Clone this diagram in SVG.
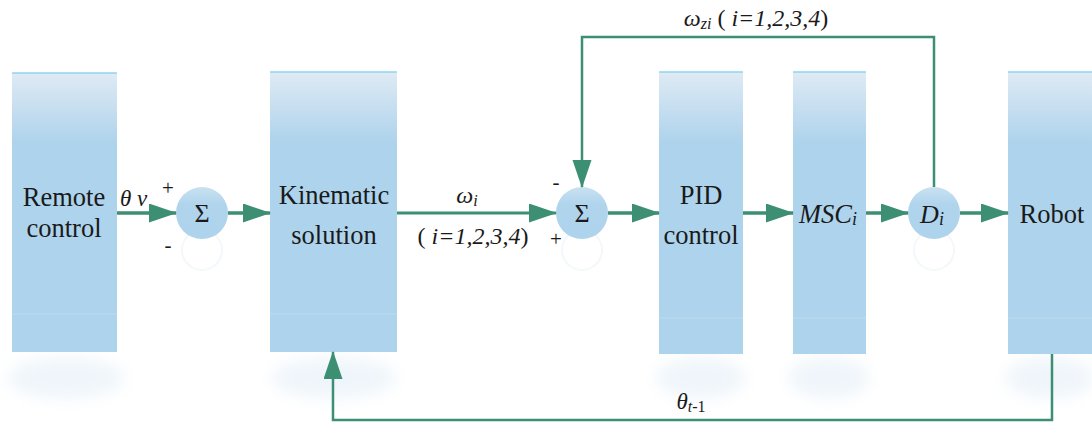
<svg xmlns="http://www.w3.org/2000/svg" width="1092" height="423" viewBox="0 0 1092 423">
<style>
.box{fill:url(#boxg)}
.edge{stroke:#8fd5ef;stroke-width:1.5}
.band{stroke:#bcdcf0;stroke-width:1}
.circ{fill:url(#circg)}
text{font-family:'Times New Roman','Liberation Serif','DejaVu Serif',serif;fill:#1a1a1a}
.lbl{font-size:26.5px;text-anchor:middle}
.it{font-style:italic}
.ln{stroke:#3d8f73;fill:none}
.shadow{fill:#dbe9f5;opacity:0.45;filter:url(#blur)}
.ring{fill:none;stroke:#f4f8fb;stroke-width:2}
</style>
<defs>
<linearGradient id="boxg" x1="0" y1="0" x2="0" y2="1">
<stop offset="0" stop-color="#dfeaf4"/>
<stop offset="0.25" stop-color="#aed3ec"/>
<stop offset="1" stop-color="#aed3ec"/>
</linearGradient>
<linearGradient id="circg" x1="0" y1="0" x2="0" y2="1">
<stop offset="0" stop-color="#c9e1f2"/>
<stop offset="0.35" stop-color="#afd4ec"/>
<stop offset="1" stop-color="#aed3ec"/>
</linearGradient>
<filter id="blur" x="-30%" y="-50%" width="160%" height="200%"><feGaussianBlur stdDeviation="8"/></filter>
<marker id="ah" markerUnits="userSpaceOnUse" markerWidth="28" markerHeight="20" refX="27" refY="9.5" orient="auto">
<path d="M0,0 L28,9.5 L0,19 z" fill="#3d8f73"/>
</marker>
</defs>

<g id="shadows">
<ellipse class="shadow" cx="66" cy="378" rx="58" ry="20"/>
<ellipse class="shadow" cx="334" cy="378" rx="62" ry="20"/>
<ellipse class="shadow" cx="701" cy="378" rx="44" ry="20"/>
<ellipse class="shadow" cx="829" cy="378" rx="40" ry="20"/>
<ellipse class="shadow" cx="1050" cy="378" rx="44" ry="20"/>
<circle class="ring" cx="202" cy="250" r="20"/>
<circle class="ring" cx="582" cy="250" r="20"/>
<circle class="ring" cx="934" cy="250" r="20"/>
</g>

<g id="remote">
<rect class="box" x="12" y="73" width="105" height="279"/>
<line class="edge" x1="12" y1="73" x2="117" y2="73"/>
<line class="band" x1="12" y1="314" x2="117" y2="314"/>
<text class="lbl" x="64" y="206">Remote</text>
<text class="lbl" x="64" y="237">control</text>
</g>

<g id="kinematic">
<rect class="box" x="270" y="72" width="127" height="280"/>
<line class="edge" x1="270" y1="72" x2="397" y2="72"/>
<line class="band" x1="270" y1="314" x2="397" y2="314"/>
<text class="lbl" x="334" y="204">Kinematic</text>
<text class="lbl" x="334" y="244">solution</text>
</g>

<g id="pid">
<rect class="box" x="659" y="72" width="84" height="282"/>
<line class="edge" x1="659" y1="72" x2="743" y2="72"/>
<line class="band" x1="659" y1="318" x2="743" y2="318"/>
<text class="lbl" x="701" y="204">PID</text>
<text class="lbl" x="701" y="244">control</text>
</g>

<g id="msc">
<rect class="box" x="793" y="72" width="73" height="282"/>
<line class="edge" x1="793" y1="72" x2="866" y2="72"/>
<line class="band" x1="793" y1="318" x2="866" y2="318"/>
<text class="lbl it" x="828" y="223">MSC<tspan font-size="18" dy="2">i</tspan></text>
</g>

<g id="robot">
<rect class="box" x="1008" y="72" width="84" height="282"/>
<line class="edge" x1="1008" y1="72" x2="1092" y2="72"/>
<line class="band" x1="1008" y1="318" x2="1092" y2="318"/>
<text class="lbl" x="1052" y="223">Robot</text>
</g>

<g id="sum1">
<circle class="circ" cx="202" cy="213" r="26"/>
<text x="202" y="222" font-size="26" text-anchor="middle">Σ</text>
</g>

<g id="sum2">
<circle class="circ" cx="582" cy="213" r="26"/>
<text x="582" y="222" font-size="26" text-anchor="middle">Σ</text>
</g>

<g id="d">
<circle class="circ" cx="934" cy="213" r="26"/>
<text class="it" x="932" y="223" font-size="26" text-anchor="middle">D<tspan font-size="18" dy="2">i</tspan></text>
</g>

<g id="connectors">
<line class="ln" stroke-width="3.5" x1="117" y1="213" x2="176" y2="213" marker-end="url(#ah)"/>
<line class="ln" stroke-width="3.5" x1="228" y1="213" x2="270" y2="213" marker-end="url(#ah)"/>
<line class="ln" stroke-width="3" x1="397" y1="213" x2="556" y2="213" marker-end="url(#ah)"/>
<line class="ln" stroke-width="3.5" x1="608" y1="213" x2="659" y2="213" marker-end="url(#ah)"/>
<line class="ln" stroke-width="3.5" x1="743" y1="213" x2="793" y2="213" marker-end="url(#ah)"/>
<line class="ln" stroke-width="3.5" x1="866" y1="213" x2="908" y2="213" marker-end="url(#ah)"/>
<line class="ln" stroke-width="3.5" x1="960" y1="213" x2="1008" y2="213" marker-end="url(#ah)"/>
<polyline class="ln" stroke-width="2.5" points="934,187 934,37 582,37 582,187" marker-end="url(#ah)"/>
<polyline class="ln" stroke-width="2.5" points="1052,354 1052,420 333,420 333,352" marker-end="url(#ah)"/>
</g>

<g id="labels">
<text class="it" x="120" y="206" font-size="23">θ v</text>
<text x="168" y="195" font-size="21" text-anchor="middle">+</text>
<text x="168" y="252" font-size="21" text-anchor="middle">-</text>
<text class="it" x="467" y="203" font-size="24" text-anchor="middle">ω<tspan font-size="16" dy="3">i</tspan></text>
<text x="473" y="244" font-size="24" text-anchor="middle">( <tspan font-style="italic">i=1,2,3,4</tspan>)</text>
<text x="556" y="189" font-size="21" text-anchor="middle">-</text>
<text x="556" y="246" font-size="21" text-anchor="middle">+</text>
<text x="756" y="26" font-size="24" text-anchor="middle"><tspan font-style="italic">ω</tspan><tspan font-style="italic" font-size="16" dy="3">zi</tspan><tspan dy="-3"> ( </tspan><tspan font-style="italic">i=1,2,3,4</tspan>)</text>
<text class="it" x="691" y="409" font-size="23" text-anchor="middle">θ<tspan font-size="16" dy="3">t</tspan><tspan font-style="normal" font-size="16">-1</tspan></text>
</g>
</svg>
